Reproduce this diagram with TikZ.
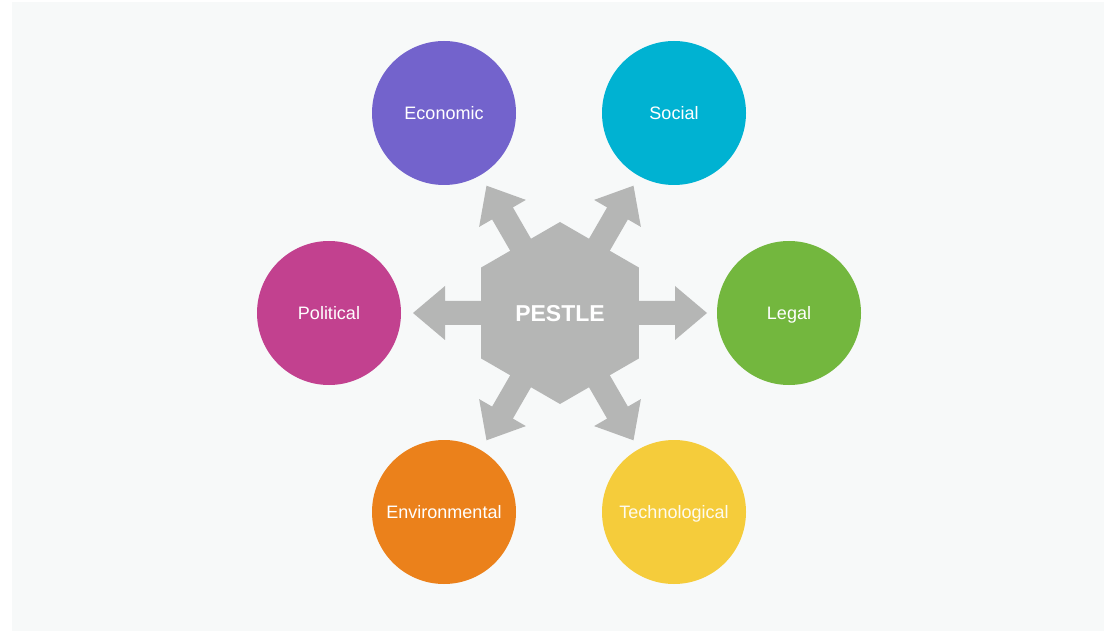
\documentclass[tikz,border=0pt]{standalone}
\usepackage{fontspec}
\setmainfont{Liberation Sans}
\usetikzlibrary{calc}
\definecolor{bgc}{HTML}{F7F9F9}
\definecolor{greyc}{HTML}{B5B6B5}
\definecolor{ecoc}{HTML}{7363CC}
\definecolor{socc}{HTML}{00B2D2}
\definecolor{legc}{HTML}{73B73E}
\definecolor{polc}{HTML}{C2418F}
\definecolor{envc}{HTML}{EB811B}
\definecolor{tecc}{HTML}{F5CC3B}
\tikzset{
  factor/.style={circle, inner sep=0pt, minimum size=144pt, text=white,
    text height=13pt, text depth=0pt,
    font=\fontsize{18}{20}\selectfont},
  arrowfill/.style={fill=greyc},
}
\begin{document}
\begin{tikzpicture}[x=1pt,y=-1pt]
\useasboundingbox (0,0) rectangle (1104,631);
\fill[white] (0,0) rectangle (1104,631);
\fill[bgc] (12,2) rectangle (1104,631);
\coordinate (c) at (560,313);
% arrows
\foreach \a in {0,60,...,300} {
  \fill[arrowfill, shift={(c)}, rotate=\a]
    (0,-12) -- (115,-12) -- (115,-27) -- (147,0) -- (115,27) -- (115,12) -- (0,12) -- cycle;
}
% hexagon
\fill[greyc] ($(c)+(90:91)$) -- ($(c)+(150:91)$) -- ($(c)+(210:91)$) -- ($(c)+(270:91)$) -- ($(c)+(330:91)$) -- ($(c)+(30:91)$) -- cycle;
\node[text=white, text height=16.5pt, text depth=0pt, font=\bfseries\fontsize{23}{25}\selectfont] (pestle) at (c) {PESTLE};
% factors
\node[factor, fill=ecoc] (eco) at (444,113) {Economic};
\node[factor, fill=socc] (soc) at (674,113) {Social};
\node[factor, fill=polc] (pol) at (329,313) {Political};
\node[factor, fill=legc] (leg) at (789,313) {Legal};
\node[factor, fill=envc] (env) at (444,512) {Environmental};
\node[factor, fill=tecc, text=white!92!tecc] (tec) at (674,512) {Technological};
\end{tikzpicture}
\end{document}
